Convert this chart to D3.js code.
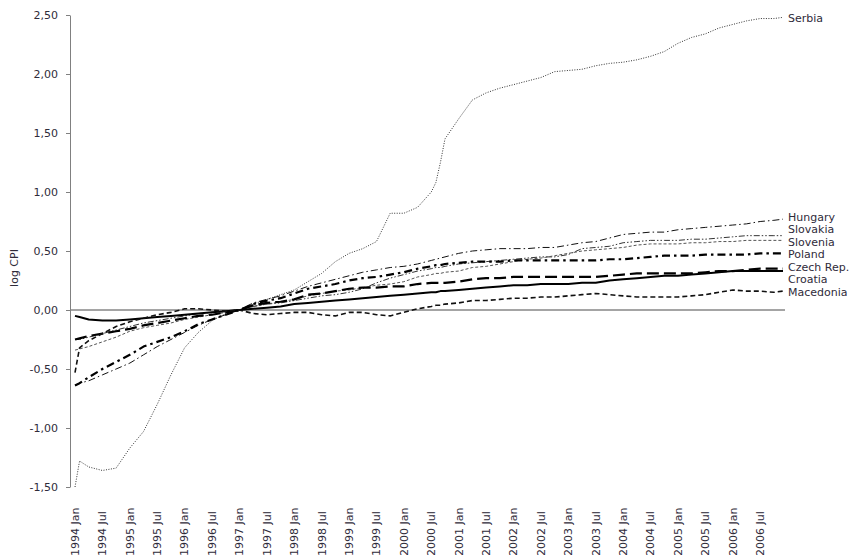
<!DOCTYPE html>
<html>
<head>
<meta charset="utf-8">
<script src="https://cdn.jsdelivr.net/npm/d3@7/dist/d3.min.js"></script>
<style>
  html, body { margin: 0; padding: 0; background: #fff; }
  svg { display: block; }
  text { font-family: "DejaVu Sans", Verdana, sans-serif; }
</style>
</head>
<body>
<svg id="chart" width="849" height="555"></svg>
<script>
// ---- data ----
// month index (0 = 1994 Jan ... 155 = 2006 Dec) at which values were read
const months = [0,1,3,6,9,12,15,18,21,24,27,30,33,36,39,42,45,48,51,54,57,60,63,66,69,72,75,78,79,80,81,84,87,90,93,96,99,102,105,108,111,114,117,120,123,126,129,132,135,138,141,144,147,150,153,155];

const tickLabels = ["1994 Jan","1994 Jul","1995 Jan","1995 Jul","1996 Jan","1996 Jul","1997 Jan","1997 Jul","1998 Jan","1998 Jul","1999 Jan","1999 Jul","2000 Jan","2000 Jul","2001 Jan","2001 Jul","2002 Jan","2002 Jul","2003 Jan","2003 Jul","2004 Jan","2004 Jul","2005 Jan","2005 Jul","2006 Jan","2006 Jul"];
const tickMonths = [0,6,12,18,24,30,36,42,48,54,60,66,72,78,84,90,96,102,108,114,120,126,132,138,144,150];

const yTicks = [-1.5,-1.0,-0.5,0,0.5,1.0,1.5,2.0,2.5];

const countries = ["Serbia","Hungary","Slovakia","Slovenia","Poland","Czech Rep.","Croatia","Macedonia"];

const serbia = [-1.50,-1.28,-1.33,-1.36,-1.34,-1.17,-1.03,-0.80,-0.55,-0.32,-0.19,-0.09,-0.03,0.00,0.05,0.09,0.13,0.17,0.24,0.31,0.41,0.48,0.52,0.58,0.82,0.82,0.87,1.00,1.08,1.25,1.45,1.62,1.78,1.84,1.88,1.91,1.94,1.97,2.02,2.03,2.04,2.07,2.09,2.10,2.12,2.15,2.19,2.26,2.31,2.34,2.39,2.42,2.45,2.47,2.47,2.48];
const hungary = [-0.64,-0.62,-0.60,-0.55,-0.50,-0.45,-0.38,-0.31,-0.25,-0.19,-0.13,-0.08,-0.04,0.00,0.06,0.09,0.12,0.16,0.20,0.23,0.26,0.29,0.32,0.34,0.36,0.37,0.39,0.42,0.43,0.44,0.45,0.48,0.50,0.51,0.52,0.52,0.52,0.53,0.53,0.55,0.57,0.58,0.61,0.64,0.65,0.66,0.66,0.68,0.69,0.70,0.71,0.72,0.73,0.75,0.76,0.77];
const slovakia = [-0.25,-0.25,-0.23,-0.20,-0.17,-0.14,-0.11,-0.09,-0.07,-0.05,-0.03,-0.02,-0.01,0.00,0.03,0.05,0.06,0.08,0.10,0.12,0.13,0.15,0.18,0.23,0.27,0.30,0.33,0.35,0.36,0.36,0.37,0.39,0.40,0.41,0.42,0.43,0.44,0.45,0.45,0.47,0.52,0.53,0.54,0.57,0.58,0.59,0.59,0.59,0.60,0.60,0.61,0.62,0.63,0.63,0.63,0.63];
const slovenia = [-0.34,-0.33,-0.31,-0.27,-0.23,-0.18,-0.15,-0.13,-0.11,-0.08,-0.06,-0.04,-0.02,0.00,0.03,0.05,0.07,0.09,0.12,0.14,0.16,0.17,0.19,0.21,0.22,0.24,0.28,0.30,0.31,0.31,0.32,0.33,0.36,0.37,0.39,0.41,0.43,0.44,0.46,0.48,0.50,0.51,0.52,0.53,0.55,0.56,0.56,0.56,0.57,0.57,0.58,0.58,0.59,0.59,0.59,0.59];
const poland = [-0.64,-0.62,-0.57,-0.50,-0.44,-0.38,-0.31,-0.27,-0.23,-0.18,-0.12,-0.08,-0.04,0.00,0.05,0.08,0.10,0.14,0.18,0.20,0.22,0.25,0.27,0.28,0.30,0.32,0.35,0.37,0.38,0.38,0.39,0.40,0.41,0.41,0.41,0.42,0.42,0.42,0.42,0.42,0.42,0.42,0.43,0.43,0.44,0.45,0.46,0.46,0.46,0.47,0.47,0.47,0.47,0.48,0.48,0.48];
const czech = [-0.25,-0.24,-0.22,-0.20,-0.18,-0.16,-0.13,-0.11,-0.09,-0.07,-0.05,-0.04,-0.02,0.00,0.04,0.06,0.07,0.09,0.13,0.14,0.16,0.18,0.19,0.19,0.20,0.20,0.22,0.23,0.23,0.23,0.23,0.24,0.26,0.27,0.27,0.28,0.28,0.28,0.28,0.28,0.28,0.28,0.29,0.30,0.31,0.31,0.31,0.31,0.31,0.32,0.33,0.33,0.34,0.35,0.35,0.35];
const croatia = [-0.05,-0.06,-0.08,-0.09,-0.09,-0.08,-0.07,-0.06,-0.05,-0.04,-0.03,-0.02,-0.01,0.00,0.01,0.02,0.03,0.05,0.06,0.07,0.08,0.09,0.10,0.11,0.12,0.13,0.14,0.15,0.15,0.16,0.16,0.17,0.18,0.19,0.20,0.21,0.21,0.22,0.22,0.22,0.23,0.23,0.25,0.26,0.27,0.28,0.29,0.29,0.30,0.31,0.32,0.33,0.33,0.33,0.33,0.33];
const macedonia = [-0.53,-0.32,-0.26,-0.20,-0.14,-0.10,-0.07,-0.04,-0.02,0.01,0.01,0.00,-0.01,0.00,-0.03,-0.04,-0.03,-0.02,-0.02,-0.04,-0.05,-0.02,-0.02,-0.04,-0.05,-0.02,0.01,0.03,0.04,0.04,0.05,0.06,0.08,0.08,0.09,0.10,0.10,0.11,0.11,0.12,0.13,0.14,0.13,0.12,0.11,0.11,0.11,0.11,0.12,0.13,0.15,0.17,0.16,0.16,0.15,0.16];

const seriesValues = [serbia, hungary, slovakia, slovenia, poland, czech, croatia, macedonia];

// ---- styles / layout (not data) ----
const styles = [
  {w: 1.0, dash: "1,1.5", color: "#333"},        // Serbia dotted
  {w: 1.0, dash: "7,3,1.5,3", color: "#111"},    // Hungary dash-dot
  {w: 1.0, dash: "6,2,1.5,2,1.5,2", color: "#333"}, // Slovakia dash-dot-dot
  {w: 1.0, dash: "3,2", color: "#555"},          // Slovenia short dash
  {w: 2.2, dash: "8,4,2.5,4", color: "#000"},    // Poland thick dash-dot
  {w: 2.2, dash: "12,5", color: "#000"},         // Czech long dash
  {w: 2.0, dash: null, color: "#000"},           // Croatia solid
  {w: 1.6, dash: "5,3", color: "#111"}           // Macedonia dash
];
const labelY = [18, 217, 229, 242, 254, 267, 279, 292];
const textColor = "#2f2b3a";

const svg = d3.select("#chart");
const x = d3.scaleLinear().domain([0, 155]).range([75, 783]);
const y = d3.scaleLinear().domain([-1.5, 2.5]).range([487, 15]);

// zero (category) line
svg.append("line")
  .attr("x1", 70).attr("x2", 785)
  .attr("y1", y(0)).attr("y2", y(0))
  .attr("stroke", "#4a4a4a").attr("stroke-width", 1);

// y axis
const yAxis = d3.axisLeft(y)
  .tickValues(yTicks)
  .tickSize(4)
  .tickSizeOuter(0)
  .tickFormat(d => d.toFixed(2).replace(".", ","));
const gy = svg.append("g").attr("transform", "translate(70,0)").call(yAxis);
gy.select(".domain").attr("stroke", "#808080");
gy.selectAll(".tick line").attr("stroke", "#808080");
gy.selectAll(".tick text")
  .attr("x", -12)
  .attr("fill", textColor)
  .style("font-size", "11px")
  .style("font-family", "'DejaVu Sans', Verdana, sans-serif");

// y title
svg.append("text")
  .attr("transform", "translate(14,268) rotate(-90)")
  .attr("text-anchor", "middle")
  .attr("dy", "0.35em")
  .attr("fill", textColor)
  .style("font-size", "11px")
  .text("log CPI");

// x tick labels
svg.append("g").selectAll("text")
  .data(tickLabels)
  .join("text")
  .attr("transform", (d, i) => `translate(${x(tickMonths[i])},556) rotate(-90)`)
  .attr("text-anchor", "start")
  .attr("dy", "0.35em")
  .attr("fill", textColor)
  .style("font-size", "11px")
  .text(d => d);

// series lines
const line = d3.line()
  .x(d => x(d[0]))
  .y(d => y(d[1]));

seriesValues.forEach((vals, k) => {
  const pts = months.map((m, i) => [m, vals[i]]);
  const st = styles[k];
  const p = svg.append("path")
    .datum(pts)
    .attr("d", line)
    .attr("fill", "none")
    .attr("stroke", st.color)
    .attr("stroke-width", st.w)
    .attr("stroke-linejoin", "round");
  if (st.dash) p.attr("stroke-dasharray", st.dash);
});

// series labels
svg.append("g").selectAll("text")
  .data(countries)
  .join("text")
  .attr("x", 788)
  .attr("y", (d, i) => labelY[i])
  .attr("dy", "0.35em")
  .attr("fill", textColor)
  .style("font-size", "11px")
  .text(d => d);
</script>
</body>
</html>
